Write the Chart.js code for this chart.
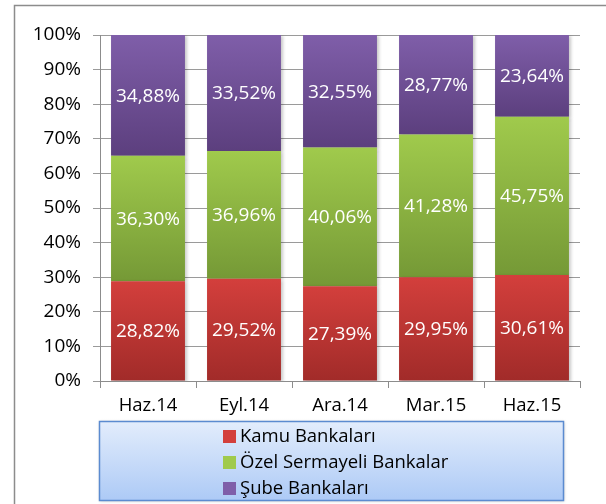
<!DOCTYPE html>
<html>
<head>
<meta charset="utf-8">
<script src="https://cdn.jsdelivr.net/npm/chart.js@4.4.1/dist/chart.umd.min.js"></script>
<style>
  html, body { margin: 0; padding: 0; background: #fff; }
  #wrap { width: 606px; height: 504px; }
</style>
</head>
<body>
<div id="wrap"><canvas id="myChart" width="606" height="504"></canvas></div>
<script>
// chart data
var periods = ["Haz.14", "Eyl.14", "Ara.14", "Mar.15", "Haz.15"];
var kamu = [28.82, 29.52, 27.39, 29.95, 30.61];
var ozel = [36.30, 36.96, 40.06, 41.28, 45.75];
var sube = [34.88, 33.52, 32.55, 28.77, 23.64];
var seriesNames = ["Kamu Bankaları", "Özel Sermayeli Bankalar", "Şube Bankaları"];
var yTicks = [0, 10, 20, 30, 40, 50, 60, 70, 80, 90, 100];

var allSeries = [kamu, ozel, sube];
// top / bottom colour of each bar gradient
var colTop = ["#d33f3c", "#a0ca4c", "#7f5ea9"];
var colBot = ["#a12b29", "#759936", "#5c3f7e"];

const font = "'Open Sans', 'Noto Sans', sans-serif";

// each segment gets its own top-to-bottom gradient
function segFill(ctx) {
  var chart = ctx.chart;
  var ds = ctx.datasetIndex;
  if (!chart.chartArea || !chart.scales.y) return colTop[ds];
  var y = chart.scales.y;
  var base = 0;
  for (var i = 0; i < ds; i++) base += allSeries[i][ctx.dataIndex];
  var top = base + allSeries[ds][ctx.dataIndex];
  var g = chart.ctx.createLinearGradient(0, y.getPixelForValue(top), 0, y.getPixelForValue(base));
  g.addColorStop(0, colTop[ds]);
  g.addColorStop(1, colBot[ds]);
  return g;
}

function fmt(v) {
  return v.toFixed(2).replace(".", ",") + "%";
}

// frame lines round the chart
const framePlugin = {
  id: "frame",
  beforeDraw(chart) {
    var c = chart.ctx;
    c.save();
    c.fillStyle = "#fff";
    c.fillRect(0, 0, chart.width, chart.height);
    c.strokeStyle = "#8c8c8c";
    c.lineWidth = 1.5;
    c.beginPath();
    c.moveTo(14.5, chart.height);
    c.lineTo(14.5, 5.5);
    c.lineTo(chart.width, 5.5);
    c.stroke();
    c.restore();
  }
};

// soft shadow under the bars
const shadowPlugin = {
  id: "barShadow",
  beforeDatasetsDraw(chart) {
    var c = chart.ctx;
    c.save();
    c.shadowColor = "rgba(0,0,0,0.22)";
    c.shadowBlur = 3;
    c.shadowOffsetX = 2;
    c.shadowOffsetY = 1;
  },
  afterDatasetsDraw(chart) {
    chart.ctx.restore();
  }
};

// white value labels in the middle of each segment
const valuePlugin = {
  id: "values",
  afterDatasetsDraw(chart) {
    var c = chart.ctx;
    c.save();
    c.fillStyle = "#fff";
    c.font = "19px " + font;
    c.textAlign = "center";
    c.textBaseline = "middle";
    chart.data.datasets.forEach(function (d, di) {
      chart.getDatasetMeta(di).data.forEach(function (bar, i) {
        var mid = (bar.y + bar.base) / 2;
        c.fillText(fmt(d.data[i]), bar.x, mid + 1);
      });
    });
    c.restore();
  }
};

// boxed legend under the axis
const legendPlugin = {
  id: "boxLegend",
  afterDraw(chart) {
    var c = chart.ctx;
    var x = 99, y = 421, w = 464, h = 79;
    c.save();
    c.shadowColor = "rgba(0,0,0,0.25)";
    c.shadowBlur = 3;
    c.shadowOffsetX = 1;
    c.shadowOffsetY = 1;
    var g = c.createLinearGradient(0, y, 0, y + h);
    g.addColorStop(0, "#e3edfc");
    g.addColorStop(1, "#adcaf6");
    c.fillStyle = g;
    c.fillRect(x, y, w, h);
    c.shadowColor = "transparent";
    c.strokeStyle = "#5b8bd0";
    c.lineWidth = 1.5;
    c.strokeRect(x + 0.5, y + 0.5, w, h);
    c.font = "18.5px " + font;
    c.textBaseline = "middle";
    seriesNames.forEach(function (name, i) {
      var cy = 436 + i * 26;
      c.fillStyle = colTop[i];
      c.fillRect(223, cy - 6, 13, 13);
      c.fillStyle = "#000";
      c.fillText(name, 240, cy + 1);
    });
    c.restore();
  }
};

const data = {
  labels: periods,
  datasets: seriesNames.map(function (name, i) {
    return {
      label: name,
      data: allSeries[i],
      backgroundColor: segFill,
      borderWidth: 0,
      barPercentage: 0.77,
      categoryPercentage: 1
    };
  })
};

const config = {
  type: "bar",
  data: data,
  plugins: [framePlugin, shadowPlugin, valuePlugin, legendPlugin],
  options: {
    responsive: false,
    animation: false,
    layout: { padding: { left: 0, right: 26, top: 35, bottom: 83 } },
    plugins: { legend: { display: false }, tooltip: { enabled: false } },
    scales: {
      x: {
        stacked: true,
        offset: true,
        grid: { offset: true, drawOnChartArea: false, drawTicks: true, tickLength: 7, color: "#8c8c8c" },
        border: { color: "#8c8c8c" },
        ticks: { color: "#000", font: { family: font, size: 18.5 }, padding: 7 },
        afterFit: function (s) { s.height = 40; }
      },
      y: {
        stacked: true,
        min: 0,
        max: 100,
        afterBuildTicks: function (s) {
          s.ticks = yTicks.map(function (v) { return { value: v }; });
        },
        grid: { color: "#9a9a9a", tickLength: 7 },
        border: { color: "#8c8c8c" },
        ticks: {
          color: "#000",
          font: { family: font, size: 19 },
          padding: 12,
          callback: function (v) { return v + "%"; }
        },
        afterFit: function (s) { s.width = 100; }
      }
    }
  }
};

const myChart = new Chart(document.getElementById("myChart"), config);
</script>
</body>
</html>
